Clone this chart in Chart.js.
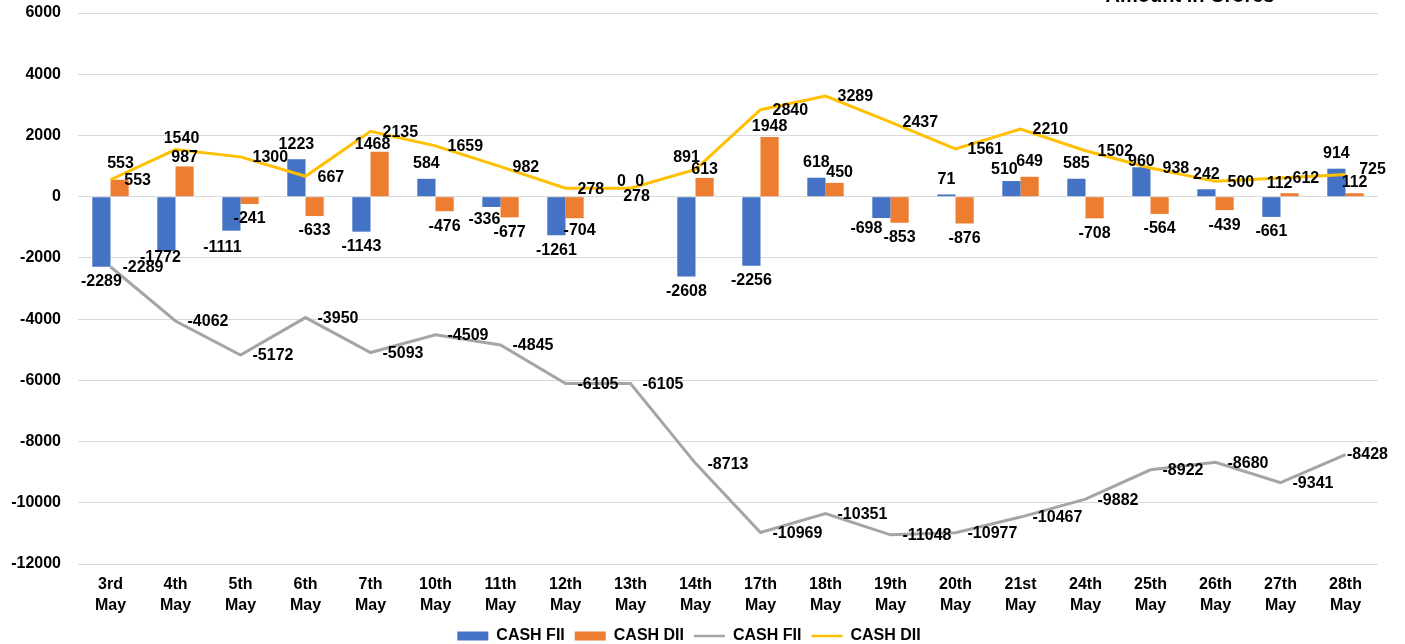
<!DOCTYPE html>
<html>
<head>
<meta charset="utf-8">
<script src="https://cdn.jsdelivr.net/npm/chart.js@4.4.0/dist/chart.umd.min.js"></script>
<style>
  html, body { margin: 0; padding: 0; background: #fff; }
  #wrap { width: 1405px; height: 644px; }
</style>
</head>
<body>
<div id="wrap"><canvas id="myChart" width="1405" height="644"></canvas></div>
<script>
var days = ["3rd","4th","5th","6th","7th","10th","11th","12th","13th","14th",
            "17th","18th","19th","20th","21st","24th","25th","26th","27th","28th"];
var cashFii = [-2289,-1772,-1111,1223,-1143,584,-336,-1261,0,-2608,
               -2256,618,-698,71,510,585,960,242,-661,914];
var cashDii = [553,987,-241,-633,1468,-476,-677,-704,0,613,
               1948,450,-853,-876,649,-708,-564,-439,112,112];
var cumFii = [-2289,-4062,-5172,-3950,-5093,-4509,-4845,-6105,-6105,-8713,
              -10969,-10351,-11048,-10977,-10467,-9882,-8922,-8680,-9341,-8428];
var cumDii = [553,1540,1300,667,2135,1659,982,278,278,891,
              2840,3289,2437,1561,2210,1502,938,500,612,725];
var yTicks = [6000,4000,2000,0,-2000,-4000,-6000,-8000,-10000,-12000];

var FONT = "'Liberation Sans', Arial, sans-serif";

// labels that were dragged by hand in the original: datasetIndex -> {index: [dx, dy]}
var labelMoves = {
  0: { 1: [-6, 7], 2: [-9, 17], 6: [-7, 13], 12: [-15, 11], 14: [-7, -11], 16: [0, -6] },
  1: { 0: [18, 1], 1: [0, -9], 4: [-7, -7], 7: [5, 12], 9: [0, -8], 10: [0, -10],
       11: [5, -10], 18: [-10, -10], 19: [0, -11] },
  2: { 19: [22, 0] },
  3: { 0: [10, -16], 1: [6, -11], 8: [6, 8], 9: [-9, -12], 19: [27, -5] }
};

var valueLabels = {
  id: 'valueLabels',
  afterDatasetsDraw: function(chart) {
    var c = chart.ctx;
    c.save();
    c.font = "bold 16px " + FONT;
    c.fillStyle = "#000";
    c.textBaseline = "middle";
    chart.data.datasets.forEach(function(ds, di) {
      var meta = chart.getDatasetMeta(di);
      meta.data.forEach(function(el, i) {
        var v = ds.data[i];
        var moves = labelMoves[di] || {};
        var x, y;
        if (moves[i]) {
          c.textAlign = "center";
          x = el.x + moves[i][0];
          y = el.y + moves[i][1];
        } else if (ds.type === 'bar') {
          c.textAlign = "center";
          x = el.x;
          y = v >= 0 ? el.y - 15 : el.y + 15;
        } else {
          c.textAlign = "left";
          x = el.x + 12;
          y = el.y + 1;
        }
        c.fillText(String(v), x, y);
      });
    });
    c.restore();
  }
};

var cornerTitle = {
  id: 'cornerTitle',
  afterDraw: function(chart) {
    var c = chart.ctx;
    c.save();
    c.font = "bold 20px " + FONT;
    c.fillStyle = "#000";
    c.textAlign = "center";
    c.textBaseline = "alphabetic";
    c.fillText("Amount in Crores", 1190, 2);
    c.restore();
  }
};

var ctx = document.getElementById("myChart");

var data = {
  labels: days.map(function(d) { return [d, "May"]; }),
  datasets: [{
    type: 'bar',
    label: 'CASH FII',
    data: cashFii,
    backgroundColor: "#4472C4",
    order: 1,
    barPercentage: 1,
    categoryPercentage: 0.56
  }, {
    type: 'bar',
    label: 'CASH DII',
    data: cashDii,
    backgroundColor: "#ED7D31",
    order: 1,
    barPercentage: 1,
    categoryPercentage: 0.56
  }, {
    type: 'line',
    label: 'CASH FII',
    data: cumFii,
    borderColor: "#A5A5A5",
    backgroundColor: "#A5A5A5",
    borderWidth: 3,
    pointRadius: 0,
    tension: 0,
    order: 0
  }, {
    type: 'line',
    label: 'CASH DII',
    data: cumDii,
    borderColor: "#FFC000",
    backgroundColor: "#FFC000",
    borderWidth: 3,
    pointRadius: 0,
    tension: 0,
    order: 0
  }]
};

var options = {
  responsive: false,
  animation: false,
  layout: { padding: { top: 13, right: 27, bottom: -10, left: 0 } },
  plugins: {
    tooltip: { enabled: false },
    legend: {
      position: 'bottom',
      labels: {
        usePointStyle: true,
        boxHeight: 9,
        pointStyleWidth: 31,
        padding: 10,
        color: "#000",
        font: { family: FONT, size: 16, weight: 'bold' },
        sort: function(a, b) { return a.datasetIndex - b.datasetIndex; },
        generateLabels: function(chart) {
          return chart.data.datasets.map(function(ds, i) {
            var isLine = ds.type === 'line';
            return {
              text: ds.label,
              datasetIndex: i,
              fillStyle: ds.backgroundColor,
              strokeStyle: isLine ? ds.borderColor : ds.backgroundColor,
              lineWidth: isLine ? 2.5 : 0,
              pointStyle: isLine ? 'line' : 'rect',
              fontColor: "#000",
              hidden: false
            };
          });
        }
      }
    }
  },
  scales: {
    x: {
      grid: { display: false, drawTicks: false },
      border: { display: false },
      ticks: {
        color: "#000",
        padding: 10,
        maxRotation: 0,
        autoSkip: false,
        font: { family: FONT, size: 16, weight: 'bold', lineHeight: 1.3 }
      },
      afterFit: function(scale) { scale.height = 54; }
    },
    y: {
      min: -12000,
      max: 6000,
      afterBuildTicks: function(scale) {
        scale.ticks = yTicks.slice().reverse().map(function(v) { return { value: v }; });
      },
      // invisible tick marks push the labels left without adding top padding
      grid: { color: "#D9D9D9", lineWidth: 1, drawTicks: true, tickLength: 17, tickColor: "rgba(0,0,0,0)" },
      border: { display: false },
      ticks: {
        color: "#000",
        padding: 0,
        font: { family: FONT, size: 16, weight: 'bold' },
        callback: function(v) { return String(v); }
      },
      afterFit: function(scale) { scale.width = 78; }
    }
  }
};

new Chart(ctx, {
  type: 'bar',
  data: data,
  options: options,
  plugins: [valueLabels, cornerTitle]
});
</script>
</body>
</html>
